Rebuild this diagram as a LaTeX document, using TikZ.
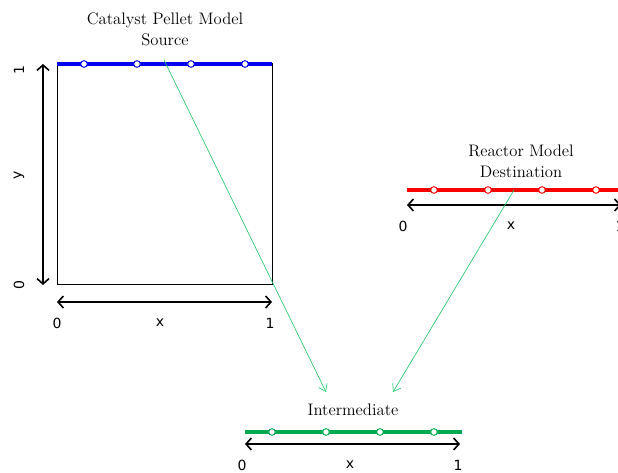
\documentclass[tikz,border=0pt]{standalone}
\usepackage{fontspec}
\newfontfamily\axisfont{DejaVu Sans}
\usetikzlibrary{arrows.meta}
\definecolor{srcblue}{RGB}{0,0,240}
\definecolor{dstred}{RGB}{250,0,0}
\definecolor{midgreen}{RGB}{0,170,80}
\definecolor{linkgreen}{RGB}{40,200,110}

\begin{document}
\begin{tikzpicture}[x=0.75pt,y=-0.75pt,
  title/.style={font=\fontsize{12.5}{16}\selectfont,align=center},
  axislabel/.style={font=\axisfont\fontsize{10.5}{12}\selectfont},
  span/.style={{Straight Barb[length=4pt,width=9pt]}-{Straight Barb[length=4pt,width=9pt]},line width=1.2pt},
  knot/.style={circle,draw=#1,fill=white,inner sep=0pt,minimum size=5pt,line width=0.7pt},
  grid line/.style={line width=2.4pt},
  link/.style={-{Straight Barb[length=5pt,width=7pt]},linkgreen,line width=0.5pt}]
  % pixel coordinates, y runs downwards
  \clip (0,0) rectangle (618,473);

  % source: catalyst pellet
  \node[title] (srctitle) at (165,29) {Catalyst Pellet Model\\Source};
  \draw[line width=0.75pt] (57,64) rectangle (272,285);
  \draw[grid line,srcblue] (57,64) -- (272,64);
  \foreach \i/\px in {1/84,2/137,3/191,4/245}
    \node[knot=srcblue] (s\i) at (\px,64) {};
  \coordinate (sxa) at (57,302);
  \coordinate (sxb) at (272,302);
  \draw[span] (sxa) -- (sxb);
  \node[axislabel] (sx0) at (57,323) {0};
  \node[axislabel] (sxx) at (160,323) {x};
  \node[axislabel] (sx1) at (270,323) {1};
  \coordinate (sya) at (43,64);
  \coordinate (syb) at (43,285);
  \draw[span] (sya) -- (syb);
  \node[axislabel,rotate=90] (sy1) at (19,70) {1};
  \node[axislabel,rotate=90] (syy) at (19,175) {y};
  \node[axislabel,rotate=90] (sy0) at (19,285) {0};

  % destination: reactor
  \node[title] (dsttitle) at (521,161) {Reactor Model\\Destination};
  \draw[grid line,dstred] (407,190) -- (625,190);
  \foreach \i/\px in {1/434,2/488,3/542,4/596}
    \node[knot=dstred] (d\i) at (\px,190) {};
  \coordinate (dxa) at (407,205);
  \coordinate (dxb) at (621,205);
  \draw[span] (dxa) -- (dxb);
  \node[axislabel] (dx0) at (403,226) {0};
  \node[axislabel] (dxx) at (511,226) {x};
  \node[axislabel] (dx1) at (620,226) {1};

  % intermediate grid
  \node[title] (midtitle) at (353,410) {Intermediate};
  \draw[grid line,midgreen] (245,432) -- (462,432);
  \foreach \i/\px in {1/272,2/326,3/380,4/434}
    \node[knot=midgreen] (m\i) at (\px,432) {};
  \coordinate (mxa) at (245,444);
  \coordinate (mxb) at (460,444);
  \draw[span] (mxa) -- (mxb);
  \node[axislabel] (mx0) at (242,465) {0};
  \node[axislabel] (mxx) at (350,465) {x};
  \node[axislabel] (mx1) at (458,465) {1};

  % mappings onto the intermediate grid
  \coordinate (srcpt) at (164,60);
  \coordinate (dstpt) at (514,190);
  \coordinate (midin1) at (326,392);
  \coordinate (midin2) at (393,392);
  \draw[link] (srcpt) -- (midin1);
  \draw[link] (dstpt) -- (midin2);
\end{tikzpicture}
\end{document}
